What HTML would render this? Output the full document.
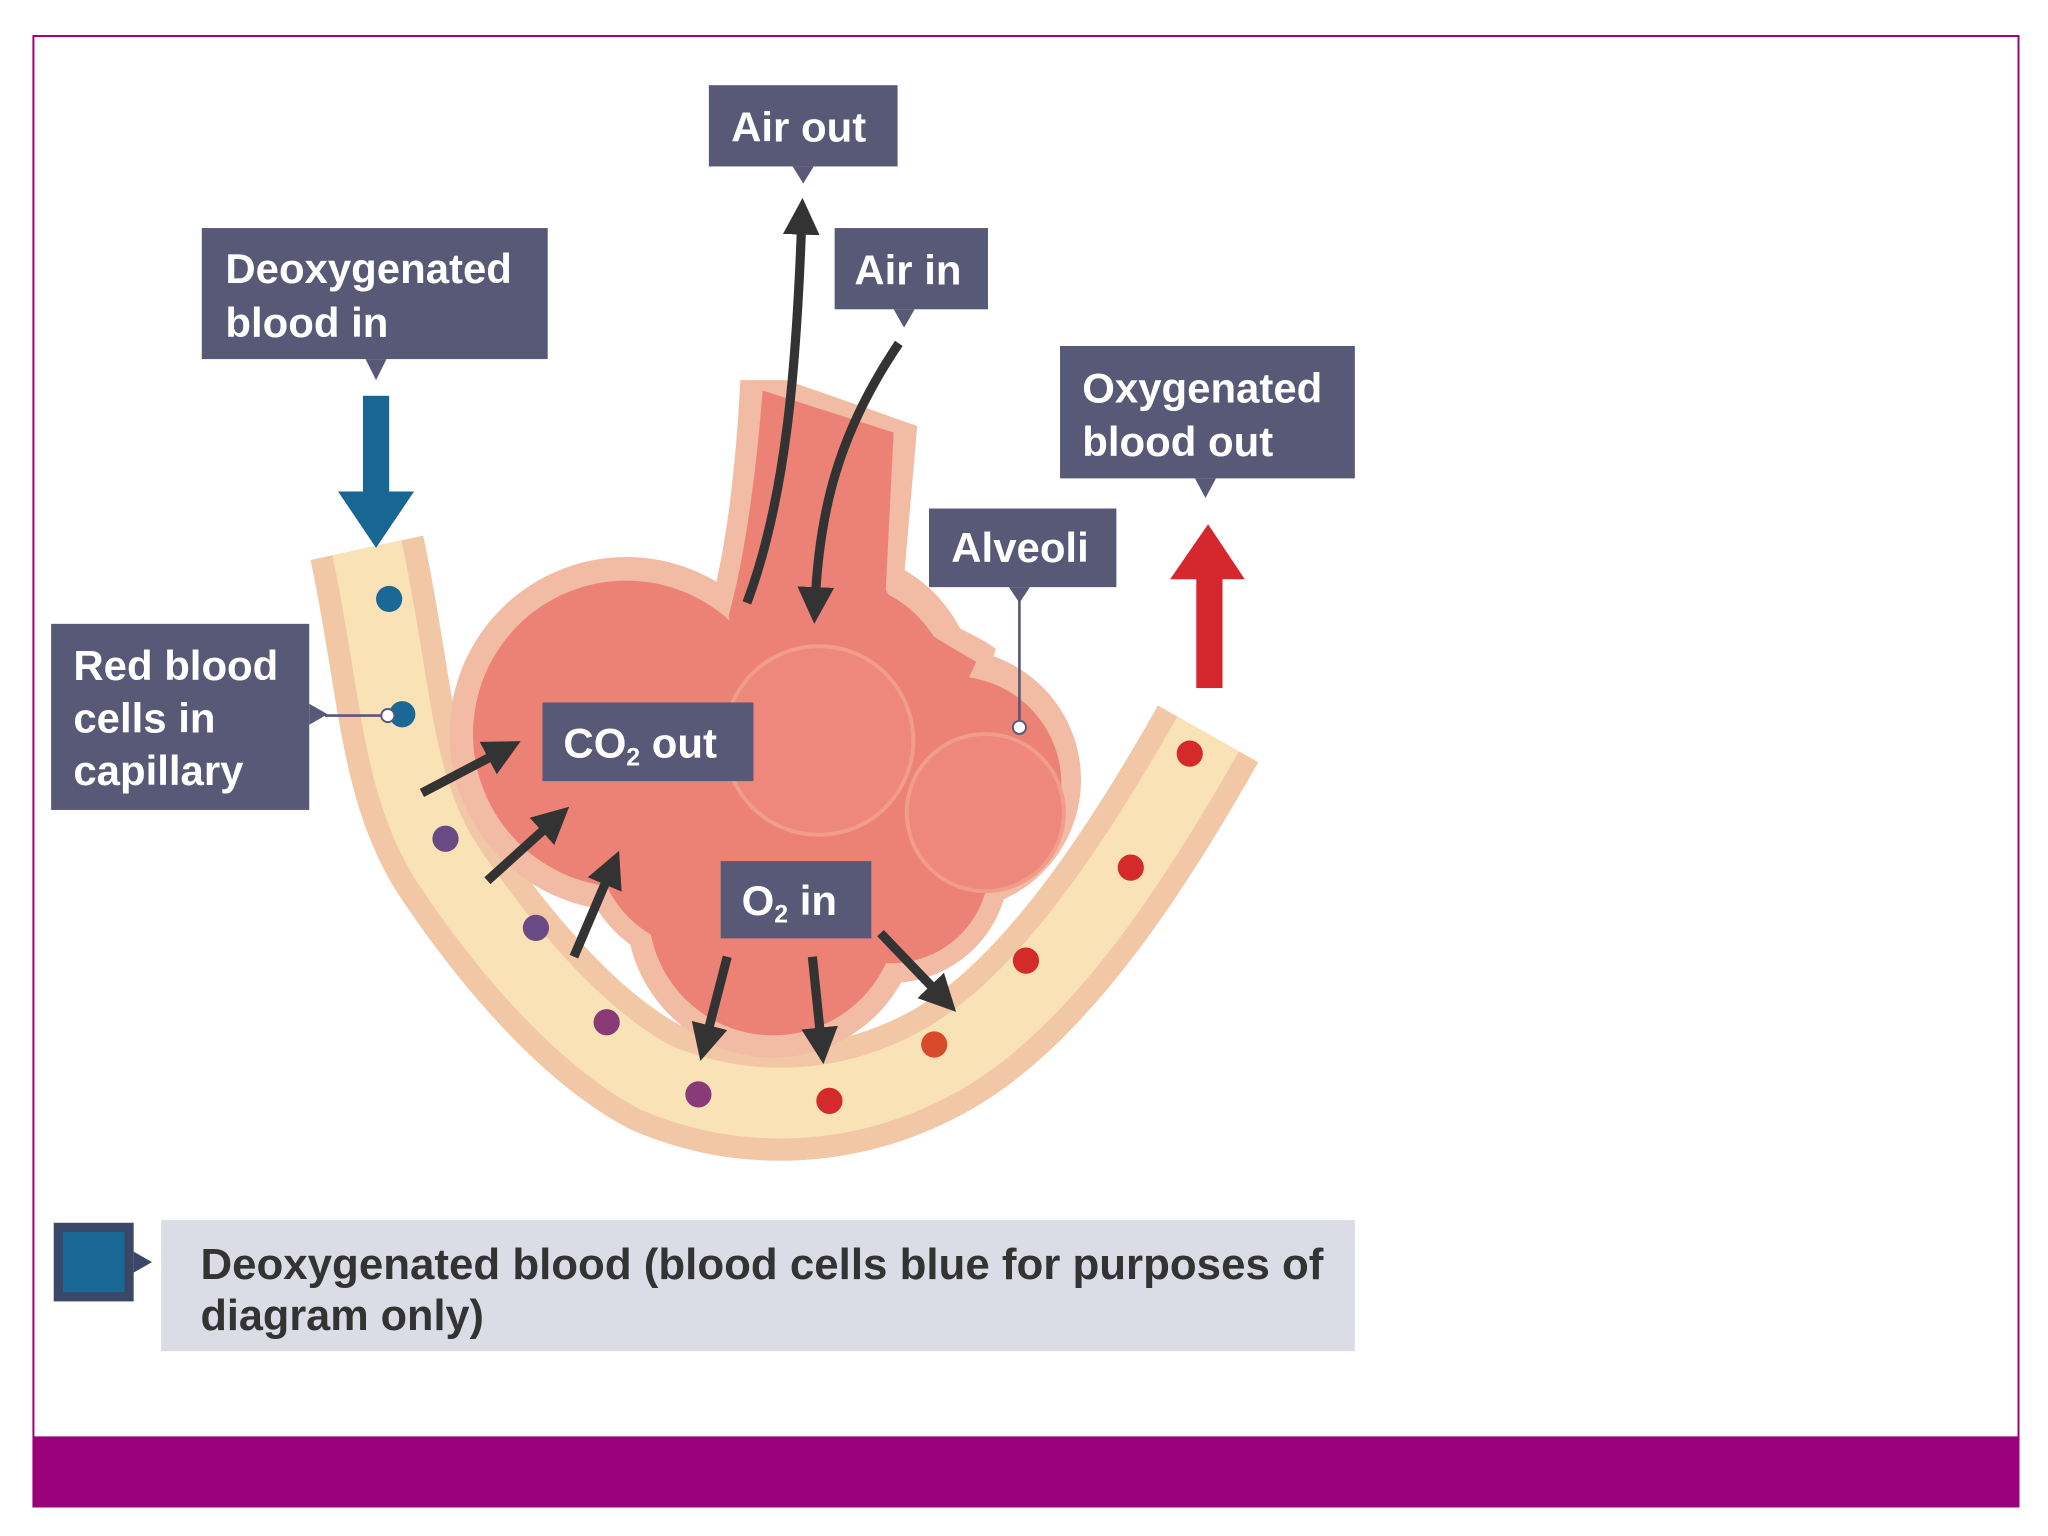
<!DOCTYPE html>
<html><head><meta charset="utf-8"><style>
html,body{margin:0;padding:0;background:#fff;}
svg{display:block}
text{font-family:"Liberation Sans",sans-serif;font-weight:bold;}
</style></head><body>
<svg width="2048" height="1536" viewBox="0 0 1563 1172" preserveAspectRatio="none" xmlns="http://www.w3.org/2000/svg">
<defs>
<marker id="ah" markerWidth="4" markerHeight="4" refX="2" refY="2" orient="auto" markerUnits="strokeWidth"><path d="M0,0 L4,2 L0,4 z" fill="#333"/></marker>
</defs>
<rect x="0" y="0" width="1563" height="1172" fill="#fff"/>
<rect x="25.5" y="27.5" width="1515" height="1122" fill="none" stroke="#9b007b" stroke-width="1.5"/>
<rect x="25" y="1096" width="1516" height="54" fill="#9b007b"/>

<!-- capillary -->
<path d="M280,418 C302,520 302,600 342,660 C382,720 440,790 500,822 C570,852 650,848 720,808 C800,762 870,652 922,560" fill="none" stroke="#f2c7a6" stroke-width="88"/>
<path d="M280,418 C302,520 302,600 342,660 C382,720 440,790 500,822 C570,852 650,848 720,808 C800,762 870,652 922,560" fill="none" stroke="#f8e2b6" stroke-width="54"/>

<!-- alveoli outer -->
<g fill="#f2bca4">
<path d="M565,290 L600,290 L700,325 L690,440 C700,470 740,480 760,495 L740,560 L560,520 L540,470 C555,420 562,350 565,290 z"/>
<circle cx="478" cy="560" r="135"/>
<circle cx="635" cy="530" r="110"/>
<circle cx="725" cy="595" r="100"/>
<circle cx="590" cy="695" r="112"/>
<circle cx="540" cy="640" r="100"/>
<circle cx="680" cy="660" r="90"/>
</g>
<g fill="#ec8276">
<path d="M582,298 L682,330 L676,450 C690,475 720,490 745,505 L720,560 L570,520 L556,470 C570,420 578,350 582,298 z"/>
<circle cx="478" cy="560" r="117"/>
<circle cx="635" cy="535" r="92"/>
<circle cx="728" cy="598" r="82"/>
<circle cx="590" cy="695" r="95"/>
<circle cx="540" cy="640" r="85"/>
<circle cx="680" cy="660" r="75"/>
</g>
<circle cx="625" cy="565" r="72" fill="#ee877c" stroke="#f29c8c" stroke-width="3"/>
<circle cx="752" cy="620" r="60" fill="#ee877c" stroke="#f29c8c" stroke-width="3"/>

<!-- dots -->
<g>
<circle cx="297" cy="457" r="10" fill="#1a6896"/>
<circle cx="307" cy="545" r="10" fill="#1a6896"/>
<circle cx="340" cy="640" r="10" fill="#6a4a84"/>
<circle cx="409" cy="708" r="10" fill="#6a4a84"/>
<circle cx="463" cy="780" r="10" fill="#8a3a78"/>
<circle cx="533" cy="835" r="10" fill="#8a3a78"/>
<circle cx="633" cy="840" r="10" fill="#d42a2a"/>
<circle cx="713" cy="797" r="10" fill="#d84a2a"/>
<circle cx="783" cy="733" r="10" fill="#d42a2a"/>
<circle cx="863" cy="662" r="10" fill="#d42a2a"/>
<circle cx="908" cy="575" r="10" fill="#d42a2a"/>
</g>

<!-- air arrows -->
<path d="M570,460 C600,380 608,280 612,165" fill="none" stroke="#333" stroke-width="7" marker-end="url(#ah)"/>
<path d="M686,262 C640,330 625,390 622,462" fill="none" stroke="#333" stroke-width="7" marker-end="url(#ah)"/>

<!-- gas arrows -->
<g stroke="#333" stroke-width="7" marker-end="url(#ah)">
<line x1="322" y1="605" x2="385" y2="572"/>
<line x1="372" y1="672" x2="424" y2="625"/>
<line x1="438" y1="730" x2="467" y2="662"/>
<line x1="555" y1="730" x2="538" y2="796"/>
<line x1="620" y1="730" x2="627" y2="798"/>
<line x1="672" y1="712" x2="720" y2="762"/>
</g>

<!-- blue arrow -->
<rect x="277" y="302" width="20" height="75" fill="#176693"/>
<polygon points="258,375 316,375 287,418" fill="#176693"/>
<!-- red arrow -->
<rect x="913" y="440" width="20" height="85" fill="#d4272e"/>
<polygon points="893,442 950,442 922,400" fill="#d4272e"/>

<!-- labels -->
<g fill="#575976">
<rect x="541" y="65" width="144" height="62"/><polygon points="605,127 621,127 613,140"/>
<rect x="637" y="174" width="117" height="62"/><polygon points="682,236 698,236 690,250"/>
<rect x="154" y="174" width="264" height="100"/><polygon points="279,274 295,274 287,290"/>
<rect x="809" y="264" width="225" height="101"/><polygon points="912,365 928,365 920,380"/>
<rect x="709" y="388" width="143" height="60"/><polygon points="770,448 786,448 778,460"/>
<rect x="39" y="476" width="197" height="142"/><polygon points="236,537 236,553 250,545"/>
<rect x="414" y="536" width="161" height="60"/>
<rect x="550" y="657" width="115" height="59"/>
</g>
<line x1="778" y1="455" x2="778" y2="553" stroke="#575976" stroke-width="2"/>
<circle cx="778" cy="555" r="5" fill="#fff" stroke="#575976" stroke-width="1.5"/>
<line x1="248" y1="546" x2="294" y2="546" stroke="#575976" stroke-width="2"/>
<circle cx="296" cy="546" r="5" fill="#fff" stroke="#575976" stroke-width="1.5"/>

<g fill="#fff" font-size="32">
<text x="558" y="108">Air out</text>
<text x="652" y="217">Air in</text>
<text x="172" y="216">Deoxygenated</text>
<text x="172" y="257">blood in</text>
<text x="826" y="307">Oxygenated</text>
<text x="826" y="348">blood out</text>
<text x="726" y="429">Alveoli</text>
<text x="56" y="519">Red blood</text>
<text x="56" y="559">cells in</text>
<text x="56" y="599">capillary</text>
<text x="430" y="578">CO<tspan font-size="19" dy="6">2</tspan><tspan dy="-6"> out</tspan></text>
<text x="566" y="698">O<tspan font-size="19" dy="6">2</tspan><tspan dy="-6"> in</tspan></text>
</g>

<!-- legend -->
<rect x="41" y="933" width="61" height="60" fill="#3a4766"/>
<rect x="48" y="940" width="47" height="46" fill="#1a6896"/>
<polygon points="102,955 102,971 116,963" fill="#3a4766"/>
<rect x="123" y="931" width="911" height="100" fill="#dcdce6"/>
<g fill="#333" font-size="33">
<text x="153" y="976" textLength="857" lengthAdjust="spacingAndGlyphs">Deoxygenated blood (blood cells blue for purposes of</text>
<text x="153" y="1015">diagram only)</text>
</g>
</svg>
</body></html>
